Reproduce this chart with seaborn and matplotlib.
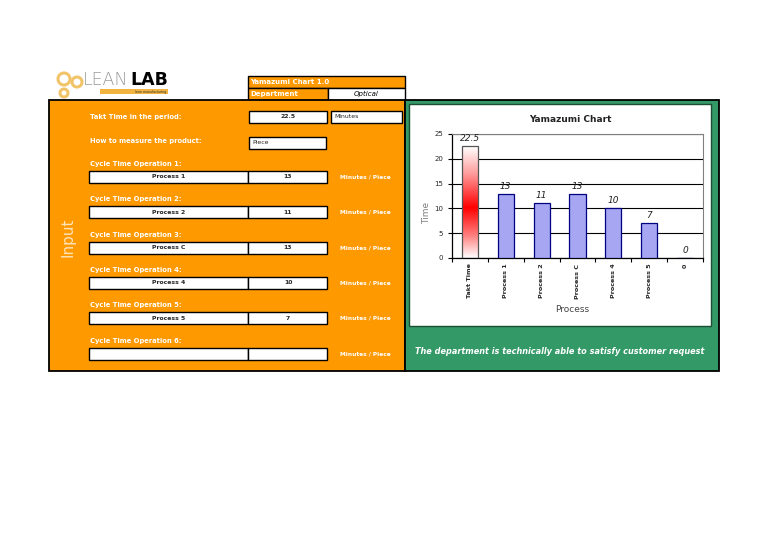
import numpy as np
import matplotlib
matplotlib.use("Agg")
import matplotlib.pyplot as plt
from matplotlib.patches import Rectangle, Circle
from matplotlib.colors import LinearSegmentedColormap
import seaborn as sns

# chart data
categories = ["Takt Time", "Process 1", "Process 2", "Process C", "Process 4", "Process 5", "0"]
times = [22.5, 13, 11, 13, 10, 7, 0]

# input sheet data
takt_time = 22.5
takt_unit = "Minutes"
product_unit = "Piece"
department = "Optical"
op_labels = ["Cycle Time Operation 1:", "Cycle Time Operation 2:", "Cycle Time Operation 3:",
             "Cycle Time Operation 4:", "Cycle Time Operation 5:", "Cycle Time Operation 6:"]
op_names = ["Process 1", "Process 2", "Process C", "Process 4", "Process 5", ""]
op_times = ["13", "11", "13", "10", "7", ""]
verdict = "The department is technically able to satisfy customer request"

ORANGE = "#FF9900"
GREEN = "#339966"
BLUE = "#9999FF"
NAVY = "#000080"

sns.set_style("white")
plt.rcParams["font.family"] = ["DejaVu Sans"]

fig = plt.figure(figsize=(7.68, 5.43), dpi=100)
bg = fig.add_axes([0, 0, 1, 1])
bg.set_xlim(0, 768)
bg.set_ylim(543, 0)
bg.axis("off")

# logo
for cx, cy, r in [(64, 79, 6), (77, 82, 5), (64, 93, 4)]:
    bg.add_patch(Circle((cx, cy), r, fc="none", ec="#F2C46A", lw=2.2))
bg.text(83, 80, "LEAN", fontsize=12.5, color="#9a9a9a", fontweight="light", va="center", ha="left")
bg.text(168, 80, "LAB", fontsize=12.5, color="black", fontweight="bold", va="center", ha="right")
bg.add_patch(Rectangle((100, 89), 68, 5, fc="#F2B441", ec="none"))
bg.text(166, 91.8, "lean manufacturing", fontsize=2.3, color="#333333", ha="right", va="center")

# header
bg.add_patch(Rectangle((248, 76), 157, 12, fc=ORANGE, ec="black", lw=1))
bg.text(250, 82, "Yamazumi Chart 1.0", fontsize=5, color="white", fontweight="bold", va="center")
bg.add_patch(Rectangle((248, 88), 80, 12, fc=ORANGE, ec="black", lw=1))
bg.text(250, 94, "Department", fontsize=5, color="white", fontweight="bold", va="center")
bg.add_patch(Rectangle((328, 88), 77, 12, fc="white", ec="black", lw=1))
bg.text(366, 94, department, fontsize=5, color="black", fontstyle="italic", va="center", ha="center")

# panels
bg.add_patch(Rectangle((49, 100), 356, 271, fc=ORANGE, ec="black", lw=1.3))
bg.add_patch(Rectangle((405, 100), 314, 271, fc=GREEN, ec="black", lw=1.3))
bg.add_patch(Rectangle((409, 104), 302, 222, fc="white", ec="#1d4d33", lw=1))

bg.text(68, 237, "Input", fontsize=11, color="#FFE3B8", rotation=90, va="center", ha="center")

white_bold = dict(fontsize=4.9, color="white", fontweight="bold", va="center")
bg.text(90, 117, "Takt Time in the period:", **white_bold)
bg.add_patch(Rectangle((249, 111), 78, 12, fc="white", ec="black", lw=1))
bg.text(288, 117, f"{takt_time:g}", fontsize=4.4, fontweight="bold", va="center", ha="center")
bg.add_patch(Rectangle((331, 111), 71, 12, fc="white", ec="black", lw=1))
bg.text(334, 116.5, takt_unit, fontsize=4.4, va="center", ha="left")

bg.text(90, 141, "How to measure the product:", **white_bold)
bg.add_patch(Rectangle((249, 137), 77, 12, fc="white", ec="black", lw=1))
bg.text(252, 143, product_unit, fontsize=4.4, va="center", ha="left")

for i, (lab, name, t) in enumerate(zip(op_labels, op_names, op_times)):
    y0 = 164 + i * 35.3
    bg.text(90, y0, lab, **white_bold)
    bg.add_patch(Rectangle((89, y0 + 7), 159, 12, fc="white", ec="black", lw=1))
    bg.add_patch(Rectangle((248, y0 + 7), 79, 12, fc="white", ec="black", lw=1))
    bg.text(169, y0 + 13, name, fontsize=4.4, fontweight="bold", va="center", ha="center")
    bg.text(288, y0 + 13, t, fontsize=4.4, fontweight="bold", va="center", ha="center")
    bg.text(340, y0 + 13, "Minutes / Piece", fontsize=4.2, color="white", fontweight="bold",
            va="center", ha="left")

bg.text(560, 352, verdict, fontsize=5.85, color="white", fontweight="bold", fontstyle="italic",
        va="center", ha="center")

# chart
ax = fig.add_axes([452 / 768, 1 - 258 / 543, 251 / 768, 124 / 543])
colors = ["#FF0000"] + [BLUE] * (len(categories) - 1)
sns.barplot(x=categories, y=times, hue=categories, palette=colors, legend=False,
            edgecolor=NAVY, linewidth=0.9, width=0.45, ax=ax, zorder=3)
ax.set_ylim(0, 25)
ax.set_xlim(-0.5, len(categories) - 0.5)
ax.set_yticks([0, 5, 10, 15, 20, 25])
ax.yaxis.grid(True, color="black", lw=0.8, zorder=0)
ax.set_axisbelow(True)

# gradient takt bar: white at top, red a bit below the middle, white at the base
first = ax.patches[0]
first.set_facecolor("none")
first.set_edgecolor("#555555")
x0, w, h = first.get_x(), first.get_width(), first.get_height()
cmap = LinearSegmentedColormap.from_list(
    "takt", [(0, "#FFFFFF"), (0.25, "#FF9A9A"), (0.55, "#FF0000"), (0.8, "#FF8080"), (1, "#FFFFFF")])
grad = np.linspace(0, 1, 256).reshape(-1, 1)
im = ax.imshow(grad, cmap=cmap, aspect="auto", extent=(x0, x0 + w, 0, h), origin="lower", zorder=2.5)
im.set_data(grad[::-1])
im.set_clip_path(first)
ax.set_xlim(-0.5, len(categories) - 0.5)
ax.set_ylim(0, 25)

for i, v in enumerate(times):
    ax.text(i, v + 0.6, f"{v:g}", fontsize=6.5, fontstyle="italic", color="#222222",
            ha="center", va="bottom")

ax.set_xticks(range(len(categories)))
ax.set_xticklabels(categories, rotation=90, fontsize=4.6, fontweight="bold")
ax.set_xticks(np.arange(-0.5, len(categories)), minor=True)
ax.tick_params(axis="x", which="major", length=0, pad=4)
ax.tick_params(axis="x", which="minor", length=3, direction="out", color="black", width=0.8, bottom=True)
ax.tick_params(axis="y", length=3, direction="out", labelsize=5, color="black", width=0.8, left=True)
for s in ["left", "bottom"]:
    ax.spines[s].set_color("black")
    ax.spines[s].set_linewidth(0.9)
for s in ["top", "right"]:
    ax.spines[s].set_color("#808080")
    ax.spines[s].set_linewidth(0.8)
ax.set_xlabel("")
ax.set_ylabel("")

fig.text(570 / 768, 1 - 119 / 543, "Yamazumi Chart", fontsize=6.5, fontweight="bold",
         ha="center", va="center", color="#222222")
fig.text(427 / 768, 1 - 213 / 543, "Time", fontsize=6.5, color="#808080", rotation=90,
         ha="center", va="center")
fig.text(572 / 768, 1 - 309 / 543, "Process", fontsize=6.5, color="#444444",
         ha="center", va="center")

fig.savefig("out.png", dpi=100)
